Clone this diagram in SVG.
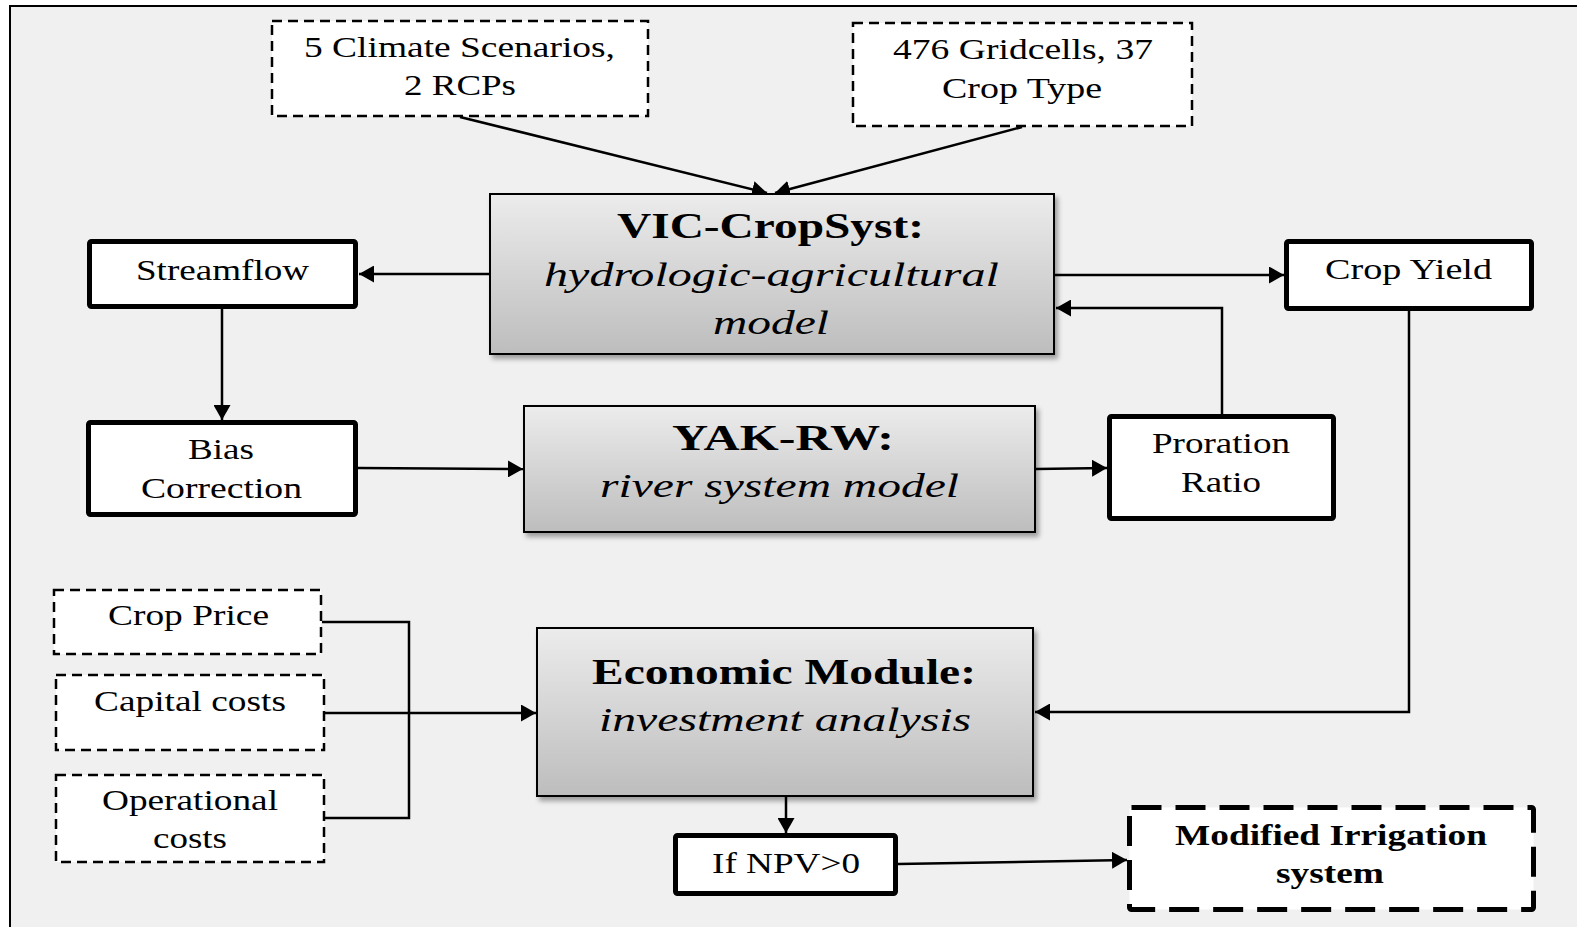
<svg xmlns="http://www.w3.org/2000/svg" width="1577" height="927" viewBox="0 0 1577 927">
  <style>
    text { font-family: "Liberation Serif", "Times New Roman", serif; fill: #000; }
    .reg { font-size: 30px; }
    .title { font-size: 36px; font-weight: bold; }
    .sub { font-size: 34px; font-style: italic; }
    .boldsm { font-size: 29px; font-weight: bold; }
    .dash { fill: #fff; stroke: #000; stroke-width: 2.5; stroke-dasharray: 10 6; }
    .thick { fill: #fff; stroke: #000; stroke-width: 5; }
    .heavydash { fill: #fff; stroke: #000; stroke-width: 5; stroke-dasharray: 30 14; }
    .model { fill: url(#shade); stroke: #000; stroke-width: 2; filter: url(#shadow); }
    .conn { fill: none; stroke: #000; stroke-width: 2.5; }
  </style>
  <defs>
    <linearGradient id="shade" x1="0" y1="0" x2="0" y2="1">
      <stop offset="0" stop-color="#ececec"/>
      <stop offset="1" stop-color="#bdbdbd"/>
    </linearGradient>
    <filter id="shadow" x="-5%" y="-5%" width="115%" height="120%">
      <feDropShadow dx="3" dy="4" stdDeviation="2.5" flood-color="#000" flood-opacity="0.35"/>
    </filter>
    <marker id="arr" viewBox="0 0 15 17" refX="15" refY="8.5" markerWidth="15" markerHeight="17" markerUnits="userSpaceOnUse" orient="auto">
      <path d="M0,0 L15,8.5 L0,17 z" fill="#000"/>
    </marker>
  </defs>

  <!-- page background and frame -->
  <rect x="0" y="0" width="1577" height="927" fill="#fff"/>
  <rect x="10" y="6" width="1580" height="940" fill="#f0f0f0" stroke="#000" stroke-width="2"/>

  <!-- connectors -->
  <g id="connectors">
    <path class="conn" d="M460,117 L767,193" marker-end="url(#arr)"/>
    <path class="conn" d="M1022,127 L775,193" marker-end="url(#arr)"/>
    <path class="conn" d="M489,274 H359" marker-end="url(#arr)"/>
    <path class="conn" d="M1055,275 H1284" marker-end="url(#arr)"/>
    <path class="conn" d="M1222,414 V308 H1056" marker-end="url(#arr)"/>
    <path class="conn" d="M222,309 V420" marker-end="url(#arr)"/>
    <path class="conn" d="M358,468 L523,469" marker-end="url(#arr)"/>
    <path class="conn" d="M1036,469 L1107,468" marker-end="url(#arr)"/>
    <path class="conn" d="M1409,311 V712 H1035" marker-end="url(#arr)"/>
    <path class="conn" d="M322,622 H409 V818 H325"/>
    <path class="conn" d="M325,713 H536" marker-end="url(#arr)"/>
    <path class="conn" d="M786,797 V833" marker-end="url(#arr)"/>
    <path class="conn" d="M898,864 L1127,860" marker-end="url(#arr)"/>
  </g>

  <g id="climate">
    <rect class="dash" x="272" y="21" width="376" height="95"/>
    <text class="reg" x="304" y="57" textLength="311" lengthAdjust="spacingAndGlyphs">5 Climate Scenarios,</text>
    <text class="reg" x="404" y="95" textLength="112" lengthAdjust="spacingAndGlyphs">2 RCPs</text>
  </g>

  <g id="gridcells">
    <rect class="dash" x="853" y="23" width="339" height="103"/>
    <text class="reg" x="893" y="59" textLength="260" lengthAdjust="spacingAndGlyphs">476 Gridcells, 37</text>
    <text class="reg" x="942" y="98" textLength="160" lengthAdjust="spacingAndGlyphs">Crop Type</text>
  </g>

  <g id="vic-cropsyst">
    <rect class="model" x="490" y="194" width="564" height="160"/>
    <text class="title" x="617" y="238" textLength="307" lengthAdjust="spacingAndGlyphs">VIC-CropSyst:</text>
    <text class="sub" x="544" y="286" textLength="455" lengthAdjust="spacingAndGlyphs">hydrologic-agricultural</text>
    <text class="sub" x="713" y="334" textLength="116" lengthAdjust="spacingAndGlyphs">model</text>
  </g>

  <g id="streamflow">
    <rect class="thick" x="89.5" y="241.5" width="266" height="65" rx="2"/>
    <text class="reg" x="136" y="280" textLength="173" lengthAdjust="spacingAndGlyphs">Streamflow</text>
  </g>

  <g id="crop-yield">
    <rect class="thick" x="1286.5" y="241.5" width="245" height="67" rx="2"/>
    <text class="reg" x="1325" y="279" textLength="167" lengthAdjust="spacingAndGlyphs">Crop Yield</text>
  </g>

  <g id="bias-correction">
    <rect class="thick" x="88.5" y="422.5" width="267" height="92" rx="2"/>
    <text class="reg" x="188" y="459" textLength="66" lengthAdjust="spacingAndGlyphs">Bias</text>
    <text class="reg" x="141" y="498" textLength="161" lengthAdjust="spacingAndGlyphs">Correction</text>
  </g>

  <g id="yak-rw">
    <rect class="model" x="524" y="406" width="511" height="126"/>
    <text class="title" x="672" y="450" textLength="222" lengthAdjust="spacingAndGlyphs">YAK-RW:</text>
    <text class="sub" x="600" y="497" textLength="359" lengthAdjust="spacingAndGlyphs">river system model</text>
  </g>

  <g id="proration-ratio">
    <rect class="thick" x="1109.5" y="416.5" width="224" height="102" rx="2"/>
    <text class="reg" x="1152" y="453" textLength="138" lengthAdjust="spacingAndGlyphs">Proration</text>
    <text class="reg" x="1181" y="492" textLength="80" lengthAdjust="spacingAndGlyphs">Ratio</text>
  </g>

  <g id="crop-price">
    <rect class="dash" x="54" y="590" width="267" height="64"/>
    <text class="reg" x="108" y="625" textLength="161" lengthAdjust="spacingAndGlyphs">Crop Price</text>
  </g>

  <g id="capital-costs">
    <rect class="dash" x="56" y="675" width="268" height="75"/>
    <text class="reg" x="94" y="711" textLength="192" lengthAdjust="spacingAndGlyphs">Capital costs</text>
  </g>

  <g id="operational-costs">
    <rect class="dash" x="56" y="775" width="268" height="87"/>
    <text class="reg" x="102" y="810" textLength="176" lengthAdjust="spacingAndGlyphs">Operational</text>
    <text class="reg" x="153" y="848" textLength="74" lengthAdjust="spacingAndGlyphs">costs</text>
  </g>

  <g id="economic-module">
    <rect class="model" x="537" y="628" width="496" height="168"/>
    <text class="title" x="592" y="684" textLength="384" lengthAdjust="spacingAndGlyphs">Economic Module:</text>
    <text class="sub" x="599" y="731" textLength="372" lengthAdjust="spacingAndGlyphs">investment analysis</text>
  </g>

  <g id="npv-check">
    <rect class="thick" x="675.5" y="835.5" width="220" height="58" rx="2"/>
    <text class="reg" x="712" y="873" textLength="148" lengthAdjust="spacingAndGlyphs">If NPV&gt;0</text>
  </g>

  <g id="modified-irrigation">
    <rect class="heavydash" x="1129.5" y="807.5" width="404" height="102" rx="2"/>
    <text class="boldsm" x="1175" y="845" textLength="312" lengthAdjust="spacingAndGlyphs">Modified Irrigation</text>
    <text class="boldsm" x="1276" y="883" textLength="108" lengthAdjust="spacingAndGlyphs">system</text>
  </g>
</svg>
